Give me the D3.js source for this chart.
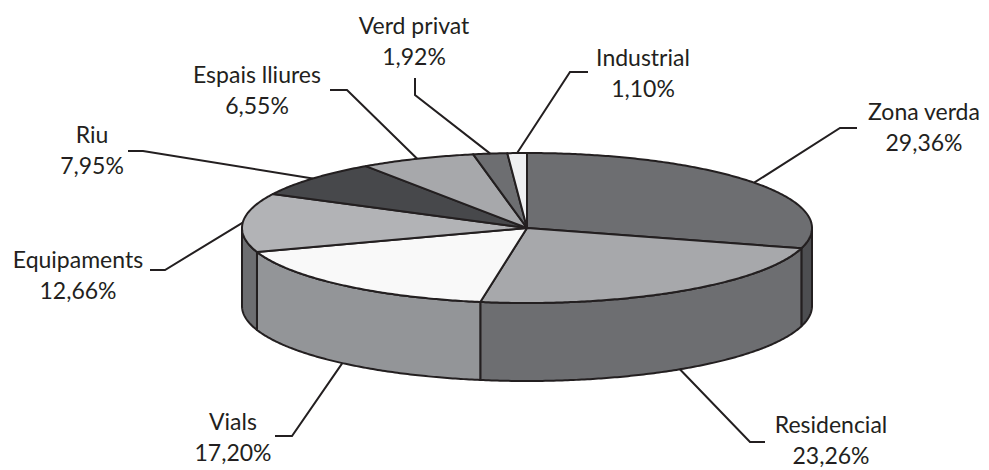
<!DOCTYPE html>
<html><head><meta charset="utf-8">
<script src="https://cdn.jsdelivr.net/npm/d3@7"></script>
<style>body{margin:0;background:#fff}svg{display:block}</style>
</head><body><svg id="c" width="989" height="470"></svg>
<script>
const categories = ["Zona verda","Residencial","Vials","Equipaments","Riu","Espais lliures","Verd privat","Industrial"];
const values = [29.36, 23.26, 17.20, 12.66, 7.95, 6.55, 1.92, 1.10];
const valueLabels = ["29,36%","23,26%","17,20%","12,66%","7,95%","6,55%","1,92%","1,10%"];
const topColors = ["#6d6e71","#a7a8ab","#f9f9f9","#b2b3b6","#47484b","#a7a8ab","#6d6e71","#eeeff1"];
const sideColors = ["#4d4e51","#6d6e71","#939598","#6d6e71","#2f3033","#6d6e71","#4d4e51","#c9cacc"];
// label layout: text centre x, first baseline y, elbow point, horizontal-end point
const labelPos = [
  {x:924, y:120, hx:857, hy:128, ex:840},
  {x:831, y:433, hx:765, hy:442, ex:750},
  {x:233, y:430, hx:275, hy:436, ex:292},
  {x:78,  y:268, hx:150, hy:270, ex:165},
  {x:92,  y:143, hx:128, hy:151, ex:143},
  {x:257, y:83,  hx:330, hy:90,  ex:347},
  {x:414, y:34,  hx:415, hy:78,  ex:415, ey:95},
  {x:643, y:66,  hx:588, hy:72,  ex:570}
];

const cx = 527, cy = 228, rx = 285, ry = 75, depth = 78;
const svg = d3.select("#c");
const pie = d3.pie().sort(null).value(d => d)(values);
const P = (a, z=0) => [cx + rx*Math.sin(a), cy - ry*Math.cos(a) + z];
const line = d3.line();
const ink = "#231f20";

function arcPts(a0, a1, z) {
  const n = Math.max(2, Math.ceil(Math.abs(a1-a0)/0.01));
  return d3.range(n+1).map(i => P(a0 + (a1-a0)*i/n, z));
}

// side walls (front half only)
const gSide = svg.append("g");
pie.forEach((p, i) => {
  const a0 = Math.max(p.startAngle, Math.PI/2), a1 = Math.min(p.endAngle, 3*Math.PI/2);
  if (a1 <= a0) return;
  const pts = arcPts(a0, a1, 0).concat(arcPts(a1, a0, depth));
  gSide.append("path").attr("d", line(pts) + "Z")
    .attr("fill", sideColors[i]).attr("stroke", ink).attr("stroke-width", 2).attr("stroke-linejoin","round");
});

// top faces
const gTop = svg.append("g");
pie.forEach((p, i) => {
  const pts = [[cx, cy]].concat(arcPts(p.startAngle, p.endAngle, 0));
  gTop.append("path").attr("d", line(pts) + "Z")
    .attr("fill", topColors[i]).attr("stroke", ink).attr("stroke-width", 2).attr("stroke-linejoin","round");
});

// leader lines and labels
const gLab = svg.append("g");
pie.forEach((p, i) => {
  const mid = (p.startAngle + p.endAngle)/2;
  const front = Math.cos(mid) < 0;
  const end = P(mid, front ? depth : 0);
  const L = labelPos[i];
  const full = [[L.hx, L.hy], [L.ex, L.ey !== undefined ? L.ey : L.hy], end];
  gLab.append("path").attr("d", line(full)).attr("fill","none").attr("stroke", ink).attr("stroke-width", 2);
  const t = gLab.append("text").attr("text-anchor","middle")
    .attr("font-family","Lato, 'Open Sans', sans-serif").attr("font-size", 23).attr("fill", ink);
  t.append("tspan").attr("x", L.x).attr("y", L.y).text(categories[i]);
  t.append("tspan").attr("x", L.x).attr("y", L.y + 31).text(valueLabels[i]);
});
</script></body></html>
